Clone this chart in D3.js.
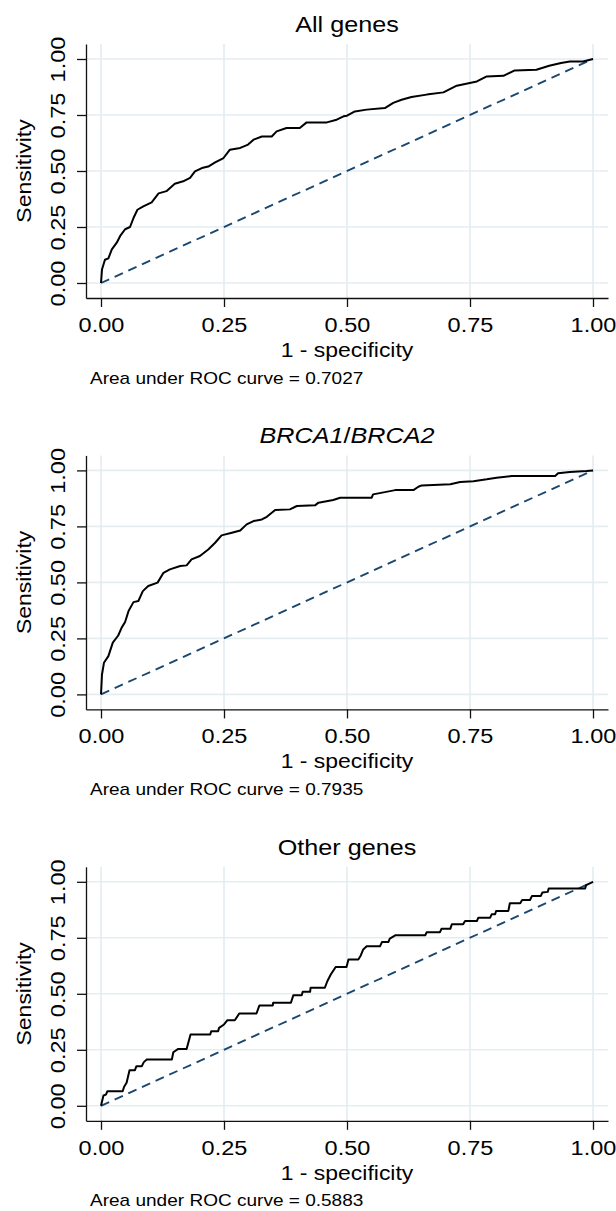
<!DOCTYPE html>
<html>
<head>
<meta charset="utf-8">
<script src="https://cdn.jsdelivr.net/npm/d3@7"></script>
<style>
  html, body { margin: 0; padding: 0; background: #fff; }
  svg { display: block; }
</style>
</head>
<body>
<svg id="chart" width="616" height="1211"></svg>
<script>
// ---------------- DATA ----------------
const panelTitles = ["All genes", "BRCA1/BRCA2", "Other genes"];
const aucLabels = ["0.7027", "0.7935", "0.5883"];
const tickValues = [0, 0.25, 0.5, 0.75, 1];
const tickLabels = ["0.00", "0.25", "0.50", "0.75", "1.00"];
const xTitle = "1 - specificity";
const yTitle = "Sensitivity";

const allFpr = [0, .002, .008, .015, .022, .032, .039, .049, .059, .066, .074, .086, .103, .117, .133, .150, .167, .181, .191, .205, .218, .232, .249, .262, .283, .299, .31, .327, .347, .357, .377, .404, .418, .459, .479, .493, .5, .516, .54, .577, .594, .611, .631, .662, .696, .723, .764, .784, .818, .841, .885, .911, .935, .953, .98, 1];
const allTpr = [0, .06, .104, .11, .15, .18, .21, .24, .25, .29, .327, .342, .36, .40, .41, .443, .454, .469, .498, .513, .52, .538, .558, .595, .603, .618, .64, .654, .654, .677, .692, .692, .717, .717, .729, .744, .747, .766, .774, .781, .804, .818, .830, .841, .851, .881, .900, .922, .925, .949, .952, .97, .982, .989, .989, 1];

const brcaFpr = [0, .002, .006, .015, .024, .035, .042, .049, .056, .066, .076, .085, .096, .115, .127, .140, .161, .174, .184, .201, .218, .232, .245, .266, .283, .296, .31, .327, .337, .354, .384, .398, .435, .442, .472, .486, .55, .553, .577, .598, .635, .645, .652, .71, .73, .757, .784, .804, .835, .923, .929, .953, .987, 1];
const brcaTpr = [0, .089, .141, .171, .231, .263, .298, .323, .372, .412, .417, .461, .484, .499, .543, .558, .573, .576, .603, .618, .647, .677, .710, .722, .732, .759, .774, .781, .793, .823, .826, .841, .844, .856, .868, .878, .878, .893, .903, .912, .912, .927, .933, .938, .948, .952, .96, .967, .975, .975, .987, .993, .997, 1];

const otherFpr = [0, .005, .01, .013, .044, .047, .052, .058, .069, .072, .083, .087, .093, .144, .147, .157, .174, .182, .222, .224, .238, .24, .25, .257, .272, .281, .316, .322, .349, .35, .386, .391, .408, .41, .425, .426, .455, .46, .467, .477, .499, .503, .523, .528, .533, .54, .567, .571, .584, .587, .598, .659, .662, .689, .692, .71, .713, .736, .74, .764, .767, .791, .794, .801, .803, .828, .831, .852, .856, .872, .876, .894, .897, .908, .91, .984, .986, 1];
const otherTpr = [0, .046, .05, .065, .065, .085, .103, .159, .159, .177, .177, .195, .207, .207, .239, .254, .254, .318, .318, .333, .333, .348, .363, .382, .382, .412, .412, .448, .448, .46, .46, .494, .494, .509, .509, .527, .527, .556, .586, .62, .62, .653, .653, .671, .698, .712, .712, .731, .731, .746, .761, .761, .775, .775, .79, .79, .81, .81, .825, .825, .84, .84, .855, .855, .87, .87, .904, .904, .919, .919, .937, .937, .952, .955, .97, .97, .985, 1];

const panelFpr = [allFpr, brcaFpr, otherFpr];
const panelTpr = [allTpr, brcaTpr, otherTpr];

// ---------------- LAYOUT ----------------
const panelStep = 411.4;
const plotLeft = 86, plotRight = 608;
const plotTop = 44, plotBottom = 298;
const padX = 15 / 492, padY = 15 / 224;
const SX = 1.12;              // horizontal glyph stretch
const FONT = "'Liberation Sans', Arial, Helvetica, sans-serif";
const gridColor = "#e4edf0";
const diagColor = "#1a476f";

const svg = d3.select("#chart");

const x = d3.scaleLinear().domain([-padX, 1 + padX]).range([plotLeft, plotRight]);

panelTitles.forEach((title, i) => {
  const oy = i * panelStep;
  const g = svg.append("g").attr("transform", `translate(0,${oy})`);
  const y = d3.scaleLinear().domain([-padY, 1 + padY]).range([plotBottom, plotTop]);

  // gridlines
  g.append("g").selectAll("line").data(tickValues).join("line")
    .attr("x1", plotLeft).attr("x2", plotRight)
    .attr("y1", d => y(d)).attr("y2", d => y(d))
    .attr("stroke", gridColor).attr("stroke-width", 1.6);
  g.append("g").selectAll("line").data(tickValues).join("line")
    .attr("y1", plotTop).attr("y2", plotBottom)
    .attr("x1", d => x(d)).attr("x2", d => x(d))
    .attr("stroke", gridColor).attr("stroke-width", 1.6);

  // diagonal reference
  g.append("line")
    .attr("x1", x(0)).attr("y1", y(0)).attr("x2", x(1)).attr("y2", y(1))
    .attr("stroke", diagColor).attr("stroke-width", 1.9)
    .attr("stroke-dasharray", "9,6");

  // ROC curve
  const pts = panelFpr[i].map((f, k) => [f, panelTpr[i][k]]);
  g.append("path").datum(pts)
    .attr("fill", "none").attr("stroke", "#000").attr("stroke-width", 2)
    .attr("stroke-linejoin", "round")
    .attr("d", d3.line().x(d => x(d[0])).y(d => y(d[1])));

  // x axis
  const xa = g.append("g").attr("transform", `translate(0,${plotBottom})`)
    .call(d3.axisBottom(x).tickValues(tickValues).tickSize(9).tickSizeOuter(0)
      .tickFormat((d, k) => tickLabels[k]));
  xa.select(".domain").attr("stroke", "#111").attr("stroke-width", 1.3);
  xa.selectAll(".tick line").attr("stroke", "#111").attr("stroke-width", 1.3);
  xa.selectAll(".tick text")
    .attr("y", 0).attr("dy", 0)
    .attr("transform", `translate(0,33.7) scale(${SX},1)`)
    .attr("font-family", FONT).attr("font-size", 21).attr("fill", "#000");

  // y axis
  const ya = g.append("g").attr("transform", `translate(${plotLeft},0)`)
    .call(d3.axisLeft(y).tickValues(tickValues).tickSize(9).tickSizeOuter(0)
      .tickFormat((d, k) => tickLabels[k]));
  ya.select(".domain").attr("stroke", "#111").attr("stroke-width", 1.3);
  ya.selectAll(".tick line").attr("stroke", "#111").attr("stroke-width", 1.3);
  ya.selectAll(".tick text")
    .attr("x", 0).attr("dy", 0).attr("text-anchor", "middle")
    .attr("transform", `translate(-21,0) rotate(-90) scale(${SX},1)`)
    .attr("font-family", FONT).attr("font-size", 21).attr("fill", "#000");

  // titles
  const t = g.append("text")
    .attr("transform", `translate(${(plotLeft + plotRight) / 2},31.7) scale(${SX},1)`)
    .attr("text-anchor", "middle")
    .attr("font-family", FONT).attr("font-size", 22.5).attr("fill", "#000");
  if (title.indexOf("BRCA") === 0) {
    const parts = title.split("/");
    t.append("tspan").attr("font-style", "italic").text(parts[0]);
    t.append("tspan").text("/");
    t.append("tspan").attr("font-style", "italic").text(parts[1]);
  } else {
    t.text(title);
  }

  g.append("text")
    .attr("transform", `translate(${(plotLeft + plotRight) / 2},356.7) scale(${SX},1)`)
    .attr("text-anchor", "middle")
    .attr("font-family", FONT).attr("font-size", 20.5).attr("fill", "#000")
    .text(xTitle);

  g.append("text")
    .attr("transform", `translate(31,${(plotTop + plotBottom) / 2}) rotate(-90) scale(${SX},1)`)
    .attr("text-anchor", "middle")
    .attr("font-family", FONT).attr("font-size", 20.5).attr("fill", "#000")
    .text(yTitle);

  g.append("text")
    .attr("transform", `translate(90,383.5) scale(${SX},1)`)
    .attr("font-family", FONT).attr("font-size", 17).attr("fill", "#000")
    .text("Area under ROC curve = " + aucLabels[i]);
});
</script>
</body>
</html>
